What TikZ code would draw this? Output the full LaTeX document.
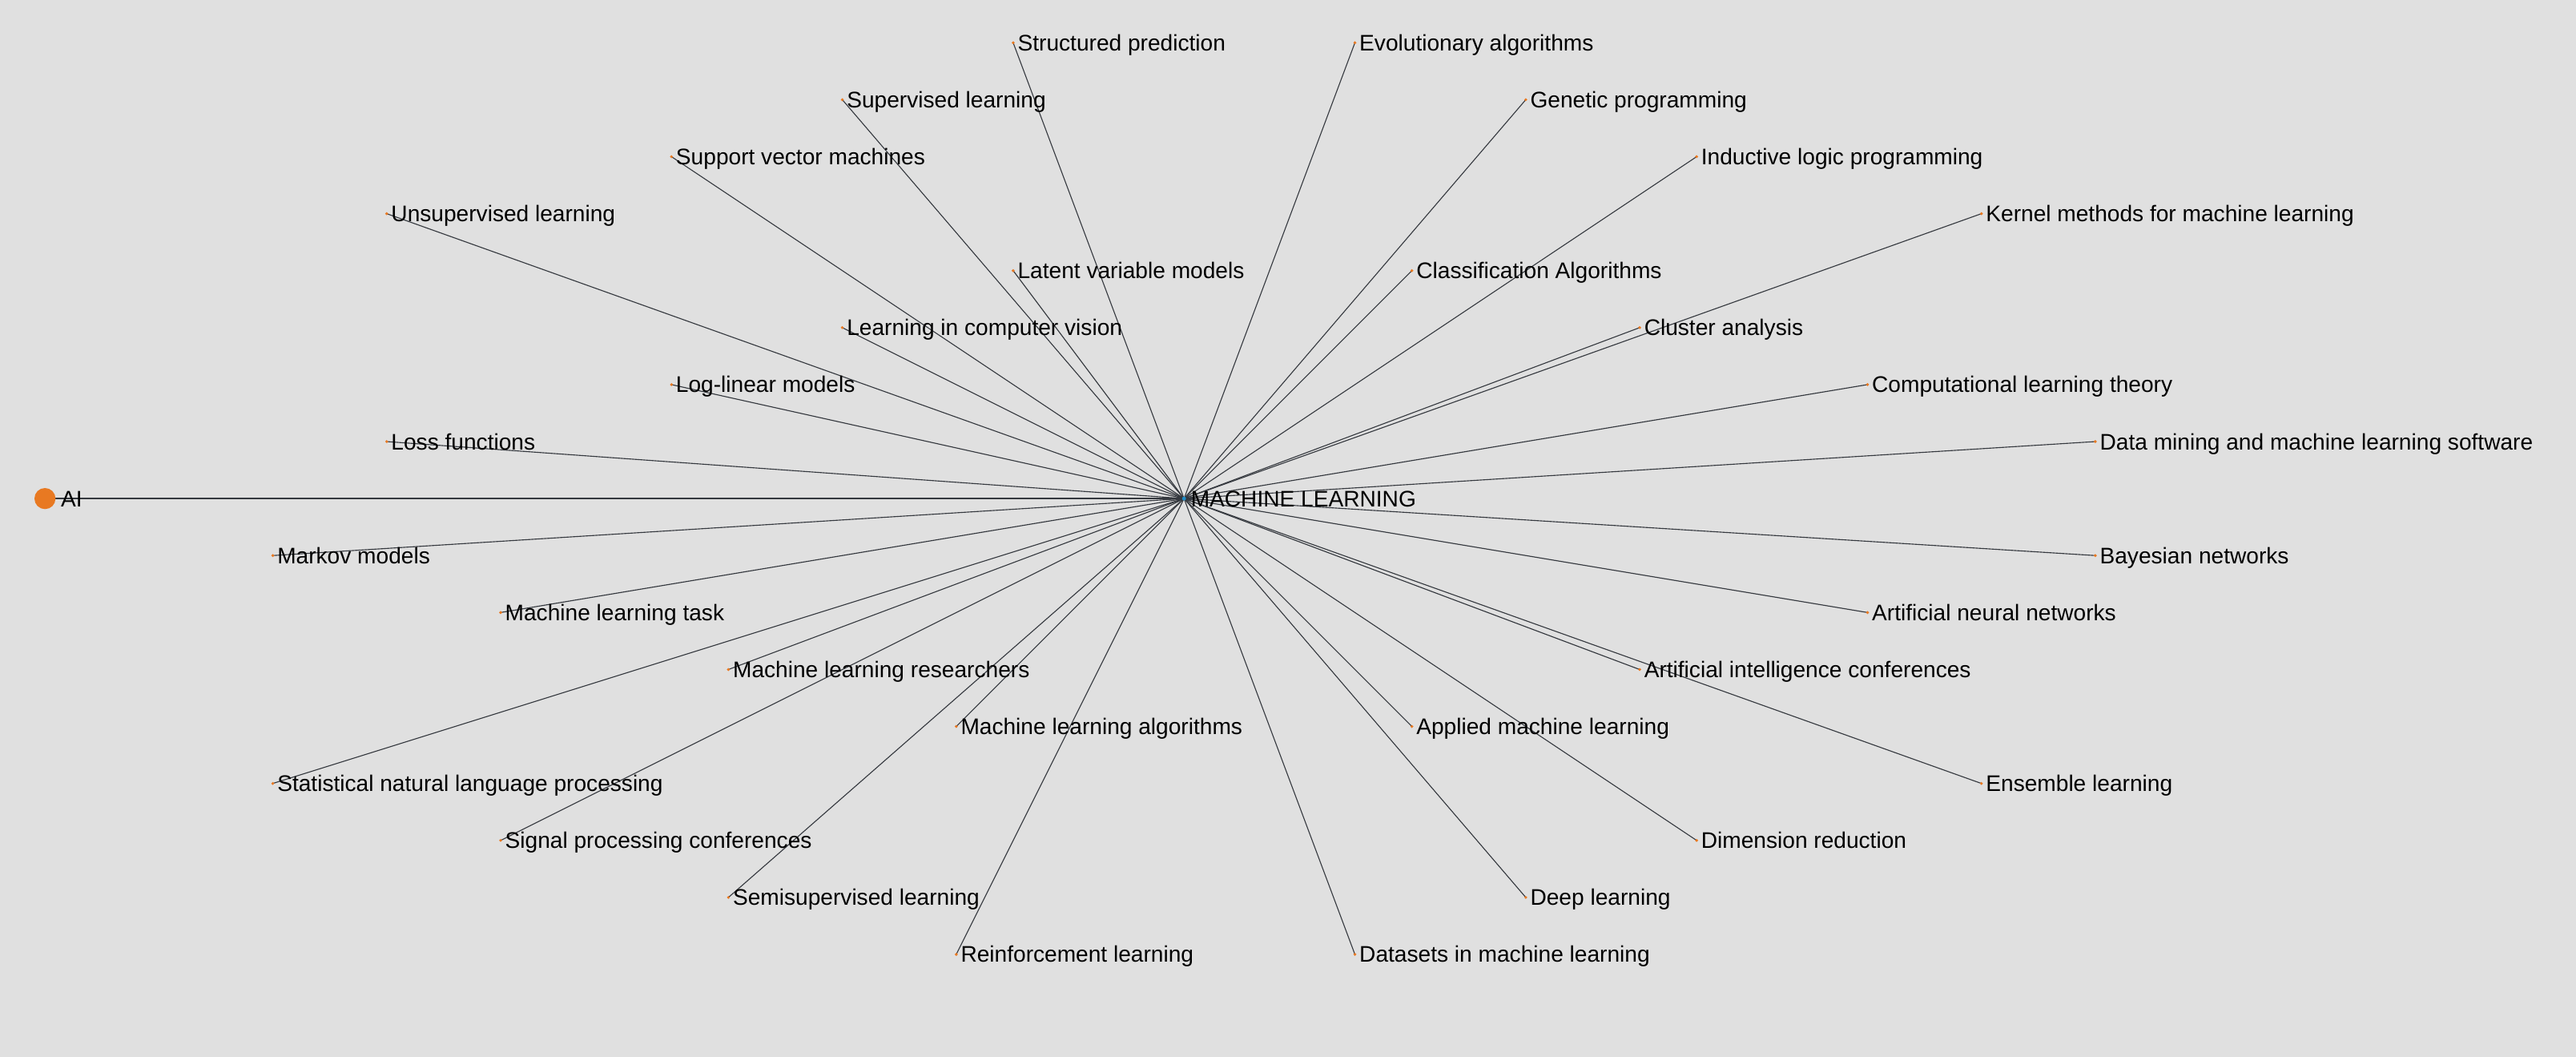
\documentclass[tikz,border=0pt]{standalone}
\usepackage{fontspec}
\setmainfont{Liberation Sans}
\usetikzlibrary{positioning}
\definecolor{bggray}{RGB}{224,224,224}
\definecolor{dotorange}{RGB}{232,121,34}
\definecolor{hubblue}{RGB}{30,140,200}
\definecolor{edgegray}{RGB}{52,56,62}

% leaves of the hub: x/y/label (grid unit = 1cm)
\def\mlleaves{%
  -3/8/Structured prediction, 3/8/Evolutionary algorithms,
  -6/7/Supervised learning, 6/7/Genetic programming,
  -9/6/Support vector machines, 9/6/Inductive logic programming,
  -14/5/Unsupervised learning, 14/5/Kernel methods for machine learning,
  -3/4/Latent variable models, 4/4/Classification Algorithms,
  -6/3/Learning in computer vision, 8/3/Cluster analysis,
  -9/2/Log-linear models, 12/2/Computational learning theory,
  -14/1/Loss functions, 16/1/Data mining and machine learning software,
  -16/-1/Markov models, 16/-1/Bayesian networks,
  -12/-2/Machine learning task, 12/-2/Artificial neural networks,
  -8/-3/Machine learning researchers, 8/-3/Artificial intelligence conferences,
  -4/-4/Machine learning algorithms, 4/-4/Applied machine learning,
  -16/-5/Statistical natural language processing, 14/-5/Ensemble learning,
  -12/-6/Signal processing conferences, 9/-6/Dimension reduction,
  -8/-7/Semisupervised learning, 6/-7/Deep learning,
  -4/-8/Reinforcement learning, 3/-8/Datasets in machine learning}

\begin{document}
\begin{tikzpicture}[every node/.style={font=\fontsize{11.25}{13}\selectfont},
  edge/.style={draw=edgegray, line width=0.45pt},
  leafdot/.style={circle, fill=dotorange, inner sep=0pt, minimum size=0.55mm},
  leaftext/.style={inner sep=0pt, outer sep=0pt, text height=8pt, text depth=0pt}]

  % canvas
  \useasboundingbox (-20.79,-9.79) rectangle (24.44,8.75);
  \fill[bggray] (-20.9,-9.9) rectangle (24.55,8.85);

  % hub and root
  \coordinate (hub) at (0,0);
  \coordinate (ai) at (-20,0);

  % spokes
  \foreach \x/\y/\txt [count=\i] in \mlleaves {
    \coordinate (leaf\i) at (\x,\y);
    \draw[edge] (hub) -- (leaf\i);
  }
  \draw[edgegray, line width=1pt] (hub) -- (ai);

  % leaf dots and labels
  \foreach \x/\y/\txt [count=\i] in \mlleaves {
    \node[leafdot] (dot\i) at (leaf\i) {};
    \node[leaftext, right=0.08cm of leaf\i] (text\i) {\txt};
  }

  % root node
  \node[circle, fill=dotorange, inner sep=0pt, minimum size=0.37cm] (aidot) at (ai) {};
  \node[leaftext, right=0.28cm of ai] (aitext) {AI};

  % hub node
  \node[circle, fill=hubblue, inner sep=0pt, minimum size=0.7mm] (hubdot) at (hub) {};
  \node[leaftext, right=0.12cm of hub] (hubtext) {MACHINE LEARNING};
\end{tikzpicture}
\end{document}
